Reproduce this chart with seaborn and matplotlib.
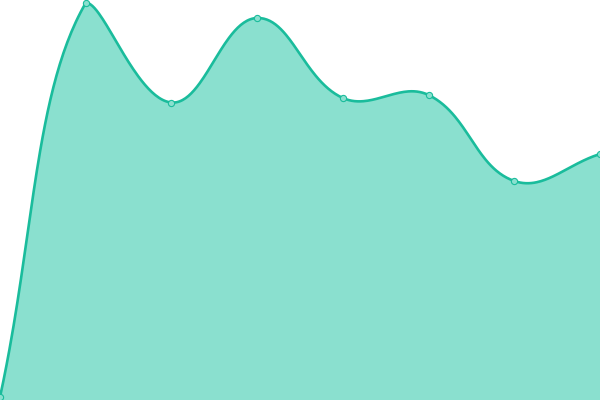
import numpy as np
import pandas as pd
import matplotlib
matplotlib.use("Agg")
import matplotlib.pyplot as plt
import seaborn as sns

# data (arbitrary units, chart height = 400)
labels = ["1", "2", "3", "4", "5", "6", "7", "8"]
values = [3, 397, 297.5, 382, 302, 305, 219, 246]

line_color = "#1abc9c"
fill_color = "#8ae0cf"
point_fill = "#8ae0cf"

W, H = 600, 400
YMAX = 400
TENSION = 0.4


def smooth_curve(vals, steps=60):
    # chart.js style cardinal bezier, control points computed in pixel space
    n = len(vals)
    xs = np.arange(n) * W / (n - 1)
    ys = np.array(vals, dtype=float) * H / YMAX
    pts = np.column_stack([xs, ys])
    cp_prev, cp_next = [], []
    for i in range(n):
        prev = pts[i - 1] if i > 0 else pts[i]
        cur = pts[i]
        nxt = pts[i + 1] if i < n - 1 else pts[i]
        d01 = np.hypot(*(cur - prev))
        d12 = np.hypot(*(nxt - cur))
        tot = d01 + d12
        s01 = d01 / tot if tot else 0
        s12 = d12 / tot if tot else 0
        p = cur - TENSION * s01 * (nxt - prev)
        q = cur + TENSION * s12 * (nxt - prev)
        p = np.clip(p, [0, 0], [W, H])
        q = np.clip(q, [0, 0], [W, H])
        cp_prev.append(p)
        cp_next.append(q)
    out = [pts[0]]
    t = np.linspace(0, 1, steps)[1:, None]
    for i in range(n - 1):
        a, b, c, d = pts[i], cp_next[i], cp_prev[i + 1], pts[i + 1]
        seg = (1 - t) ** 3 * a + 3 * (1 - t) ** 2 * t * b + 3 * (1 - t) * t ** 2 * c + t ** 3 * d
        out.extend(seg)
    out = np.array(out)
    # back to data units (x as index)
    return out[:, 0] * (n - 1) / W, out[:, 1] * YMAX / H


cx, cy = smooth_curve(values)
curve = pd.DataFrame({"x": cx, "y": cy})
pts = pd.DataFrame({"x": np.arange(len(values)), "y": values, "label": labels})

fig = plt.figure(figsize=(6, 4), dpi=100)
ax = fig.add_axes([0, 0, 1, 1])
sns.set_style("white")

ax.fill_between(curve["x"], curve["y"], 0, color=fill_color, linewidth=0)
sns.lineplot(data=curve, x="x", y="y", ax=ax, color=line_color, linewidth=1.9,
             sort=False, estimator=None)
sns.scatterplot(data=pts, x="x", y="y", ax=ax, s=20, color=point_fill,
                edgecolor=line_color, linewidth=0.8, zorder=5)

ax.set_xlim(0, len(values) - 1)
ax.set_ylim(0, YMAX)
ax.axis("off")

fig.savefig("out.png", dpi=100)
